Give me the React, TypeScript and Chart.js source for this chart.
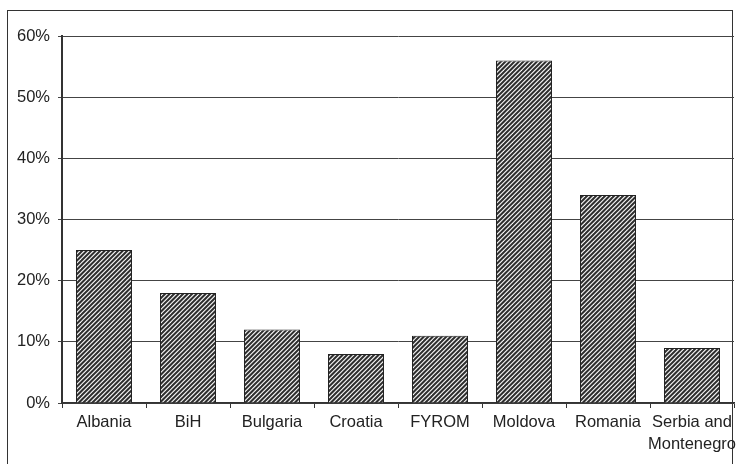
import React, { useEffect, useRef } from "react";
import { Chart, registerables } from "chart.js";

Chart.register(...registerables);

const categories: (string | string[])[] = [
  "Albania",
  "BiH",
  "Bulgaria",
  "Croatia",
  "FYROM",
  "Moldova",
  "Romania",
  ["Serbia and", "Montenegro"],
];
const values = [25, 18, 12, 8, 11, 56, 34, 9];
const yTicks = [0, 10, 20, 30, 40, 50, 60];

function makePattern(): CanvasPattern | string {
  const p = 9;
  const step = 4.5;
  const c = document.createElement("canvas");
  c.width = p;
  c.height = p;
  const g = c.getContext("2d");
  if (!g) return "#777";
  g.fillStyle = "#fafafa";
  g.fillRect(0, 0, p, p);
  g.strokeStyle = "#2e2e2e";
  g.lineWidth = 2.0;
  for (let c0 = -step; c0 <= 2 * p + step; c0 += step) {
    g.beginPath();
    g.moveTo(c0 + 2, -2);
    g.lineTo(c0 - p - 2, p + 2);
    g.stroke();
  }
  const pat = g.createPattern(c, "repeat");
  return pat || "#777";
}

const framePlugin = {
  id: "frame",
  beforeDraw(chart: any) {
    const ctx = chart.ctx;
    ctx.save();
    ctx.fillStyle = "#ffffff";
    ctx.fillRect(0, 0, chart.width, chart.height);
    ctx.strokeStyle = "#333";
    ctx.lineWidth = 1;
    ctx.strokeRect(7.5, 10.5, 725, 470);
    ctx.restore();
  },
};

export default function App() {
  const ref = useRef<HTMLCanvasElement>(null);
  useEffect(() => {
    if (!ref.current) return;
    const font = {
      family: "'Liberation Sans', Arial, sans-serif",
      size: 16.5,
      lineHeight: 1.3,
    };
    const chart = new Chart(ref.current, {
      type: "bar",
      data: {
        labels: categories,
        datasets: [
          {
            data: values,
            backgroundColor: makePattern() as any,
            borderColor: "#222",
            borderWidth: 1,
            barPercentage: 0.667,
            categoryPercentage: 1,
          },
        ],
      },
      plugins: [framePlugin],
      options: {
        animation: false,
        responsive: false,
        devicePixelRatio: 1,
        layout: { padding: { left: 8, top: 36, right: 2, bottom: 0 } },
        plugins: { legend: { display: false }, tooltip: { enabled: false } },
        scales: {
          x: {
            grid: {
              display: true,
              drawOnChartArea: false,
              drawTicks: true,
              tickLength: 5,
              color: "#333",
              offset: true,
            },
            border: { display: true, color: "#333", width: 1.5 },
            ticks: {
              font,
              color: "#222",
              padding: 4,
              maxRotation: 0,
              autoSkip: false,
            },
            afterFit: (s: any) => {
              s.height = 61;
              s.paddingLeft = 0;
              s.paddingRight = 0;
            },
          },
          y: {
            min: 0,
            max: 60,
            afterBuildTicks: (s: any) => {
              s.ticks = yTicks.map((v) => ({ value: v }));
            },
            grid: {
              color: "#444",
              lineWidth: 1,
              drawTicks: true,
              tickLength: 4,
            },
            border: { display: true, color: "#333", width: 2 },
            ticks: {
              font: { ...font, lineHeight: 1.2 },
              color: "#222",
              padding: 8,
              callback: (v: any) => v + "%",
            },
            afterFit: (s: any) => {
              s.width = 54;
              s.paddingTop = 0;
              s.paddingBottom = 0;
            },
          },
        },
      },
    });
    return () => chart.destroy();
  }, []);
  return (
    <canvas
      ref={ref}
      width={736}
      height={464}
      style={{ position: "fixed", left: 0, top: 0, width: 736, height: 464 }}
    />
  );
}
